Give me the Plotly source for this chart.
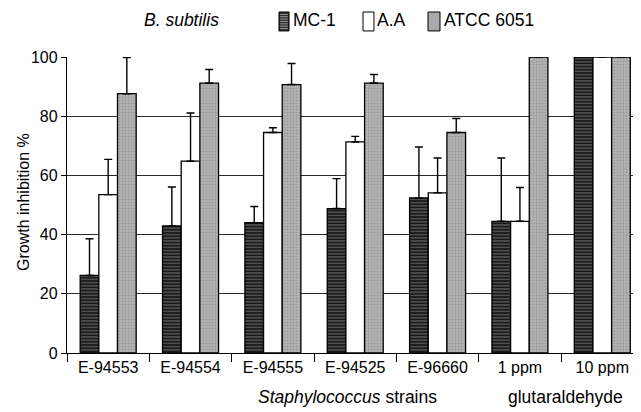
import plotly.graph_objects as go

categories = ["E-94553", "E-94554", "E-94555", "E-94525", "E-96660", "1 ppm", "10 ppm"]
series_names = ["MC-1", "A.A", "ATCC 6051"]
mc1 = [26.2, 42.9, 44.0, 48.8, 52.4, 44.5, 100]
mc1_err = [12.4, 13.2, 5.5, 10.1, 17.2, 21.4, 0]
aa = [53.5, 64.8, 74.5, 71.3, 54.1, 44.5, 100]
aa_err = [11.9, 16.3, 1.6, 1.9, 11.8, 11.4, 0]
atcc = [87.6, 91.2, 90.7, 91.2, 74.5, 100, 100]
atcc_err = [12.2, 4.6, 7.1, 2.9, 4.7, 0, 0]
y_ticks = [0, 20, 40, 60, 80, 100]

FONT = "Liberation Sans, Arial, sans-serif"

styles = [
    dict(color="#222222", pattern=dict(shape="-", fgcolor="#c8c8c8", bgcolor="#1a1a1a", size=3.2, solidity=0.3)),
    dict(color="white"),
    dict(color="#a9a9a9", pattern=dict(shape=".", fgcolor="#7a7a7a", bgcolor="#b4b4b4", size=3, solidity=0.3)),
]
swatch_fill = ["#2a2a2a", "white", "#aaaaaa"]

fig = go.Figure()
for name, vals, errs, st in zip(series_names, [mc1, aa, atcc], [mc1_err, aa_err, atcc_err], styles):
    fig.add_trace(go.Bar(
        x=categories, y=vals, name=name, showlegend=False,
        marker=dict(line=dict(color="black", width=1.3), **st),
        error_y=dict(type="data", symmetric=False, array=errs,
                     arrayminus=[0] * len(errs), color="black", thickness=1.4, width=4),
    ))

# manual legend (paper coordinates)
sw_x = [(0.3693, 0.3868), (0.5157, 0.5348), (0.6289, 0.6498)]
txt_x = [0.3902, 0.5366, 0.6533]
shapes = []
annotations = []
for i, name in enumerate(series_names):
    x0, x1 = sw_x[i]
    shapes.append(dict(type="rect", xref="paper", yref="paper", x0=x0, x1=x1,
                       y0=1.088, y1=1.152, fillcolor=swatch_fill[i],
                       line=dict(color="black", width=1)))
    if i == 0:
        for k in range(1, 8):
            yy = 1.088 + k * 0.008
            shapes.append(dict(type="line", xref="paper", yref="paper", x0=x0 + 0.002,
                               x1=x1 - 0.002, y0=yy, y1=yy,
                               line=dict(color="#bbbbbb", width=0.8)))
    annotations.append(dict(text=name, xref="paper", yref="paper", x=txt_x[i], y=1.125,
                            xanchor="left", yanchor="middle", showarrow=False,
                            font=dict(size=17.5)))

annotations += [
    dict(text="<i>B. subtilis</i>", xref="paper", yref="paper", x=0.2003, y=1.125,
         xanchor="center", yanchor="middle", showarrow=False, font=dict(size=17.5)),
    dict(text="<i>Staphylococcus</i> strains", xref="paper", yref="paper", x=0.4895, y=-0.1486,
         xanchor="center", yanchor="middle", showarrow=False, font=dict(size=17.5)),
    dict(text="glutaraldehyde", xref="paper", yref="paper", x=0.8676, y=-0.1486,
         xanchor="center", yanchor="middle", showarrow=False, font=dict(size=17.5)),
    dict(text="Growth inhibition %", xref="paper", yref="paper", x=-0.0767, y=0.51,
         xanchor="center", yanchor="middle", textangle=-90, showarrow=False,
         font=dict(size=16)),
]

# the page body adds an 8px margin, so the figure is sized 8px smaller
fig.update_layout(
    width=633, height=404,
    margin=dict(l=59, r=0, t=49, b=59),
    paper_bgcolor="white", plot_bgcolor="white",
    barmode="group", bargap=0.32, bargroupgap=0,
    font=dict(family=FONT, size=16, color="black"),
    showlegend=False,
    xaxis=dict(range=[-0.5, 6.47], automargin=False, showline=True, linecolor="black",
               linewidth=1.3, ticks="outside", tickson="boundaries", ticklen=8,
               tickcolor="black", tickwidth=1.3, tickfont=dict(size=16), showgrid=False),
    yaxis=dict(range=[0, 100], tickvals=y_ticks, automargin=False, showline=True,
               linecolor="black", linewidth=1.3, ticks="outside", ticklen=5,
               tickcolor="black", tickwidth=1.3,
               showgrid=True, gridcolor="#2a2a2a", gridwidth=1.3, zeroline=False,
               tickfont=dict(size=16)),
    shapes=shapes,
    annotations=annotations,
)

fig.write_html("out.html")
